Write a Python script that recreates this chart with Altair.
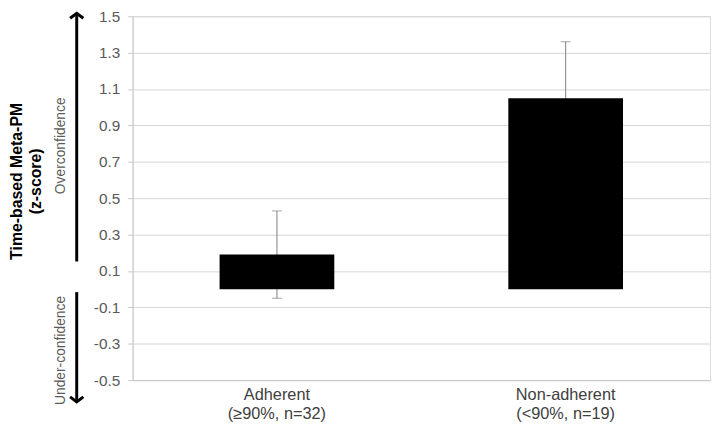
import altair as alt
import pandas as pd

groups = ["Adherent|(≥90%, n=32)", "Non-adherent|(<90%, n=19)"]
means = [0.19, 1.05]
errs = [0.24, 0.31]
y_ticks = [-0.5, -0.3, -0.1, 0.1, 0.3, 0.5, 0.7, 0.9, 1.1, 1.3, 1.5]

df = pd.DataFrame({
    "group": groups,
    "mean": means,
    "lo": [m - e for m, e in zip(means, errs)],
    "hi": [m + e for m, e in zip(means, errs)],
})

FONT = "Liberation Sans"
TOP = 6           # plot top offset inside svg
H = 368           # plot height

xenc = alt.X(
    "group:N", sort=groups, title=None,
    scale=alt.Scale(paddingInner=0, paddingOuter=0),
    axis=alt.Axis(
        labelExpr="split(datum.label, '|')", labelAngle=0, ticks=False,
        labelFontSize=16.5, labelFont=FONT, labelColor="#404040",
        labelPadding=7, labelLineHeight=19, domainColor="#c8c8c8",
        labelBaseline="top",
    ),
)
yscale = alt.Scale(domain=[-0.5, 1.5], nice=False, zero=False)
yaxis = alt.Axis(
    values=y_ticks, tickCount=30, title=None, labelFontSize=15.5, labelFont=FONT,
    labelExpr="replace(format(datum.value, '.1f'), '\u2212', '-')",
    labelColor="#595959", gridColor="#d6d6d6", domainColor="#c8c8c8",
    tickColor="#c8c8c8", tickSize=5, labelPadding=8,
    labelOverlap=False, labelFlush=False, labelBound=False,
)

base = alt.Chart(df)

err_rule = base.mark_rule(color="#7f7f7f", strokeWidth=1).encode(
    x=xenc, y=alt.Y("lo:Q", scale=yscale, axis=yaxis), y2="hi:Q"
)
cap_hi = base.mark_tick(color="#7f7f7f", size=10, thickness=1, orient="horizontal").encode(
    x=alt.X("group:N", sort=groups), y=alt.Y("hi:Q")
)
cap_lo = base.mark_tick(color="#7f7f7f", size=10, thickness=1, orient="horizontal").encode(
    x=alt.X("group:N", sort=groups), y=alt.Y("lo:Q")
)
bars = base.mark_bar(color="#000000", size=116).encode(
    x=alt.X("group:N", sort=groups), y=alt.Y("mean:Q"), y2=alt.datum(0)
)

one = pd.DataFrame({"k": [0]})
ann = alt.Chart(one)

def py(page_y):
    # page y -> chart y
    return page_y - 8 - TOP

title1 = ann.mark_text(angle=270, font=FONT, fontSize=16, fontWeight="bold", color="#000000",
                       align="center", baseline="middle").encode(
    x=alt.value(-117), y=alt.value(py(181)), text=alt.value("Time-based Meta-PM"))
title2 = ann.mark_text(angle=270, font=FONT, fontSize=16, fontWeight="bold", color="#000000",
                       align="center", baseline="middle").encode(
    x=alt.value(-98), y=alt.value(py(181)), text=alt.value("(z-score)"))
over = ann.mark_text(angle=270, font=FONT, fontSize=14, color="#595959",
                     align="center", baseline="middle").encode(
    x=alt.value(-72), y=alt.value(py(145)), text=alt.value("Overconfidence"))
under = ann.mark_text(angle=270, font=FONT, fontSize=14, color="#595959",
                      align="center", baseline="middle").encode(
    x=alt.value(-72), y=alt.value(py(352)), text=alt.value("Under-confidence"))

up_line = ann.mark_rule(color="#000000", strokeWidth=3).encode(
    x=alt.value(-56.5), y=alt.value(py(262)), y2=alt.value(py(12)))
down_line = ann.mark_rule(color="#000000", strokeWidth=3).encode(
    x=alt.value(-56.5), y=alt.value(py(293)), y2=alt.value(py(402)))
up_head = ann.mark_point(shape="M-1,0.75L0,0L1,0.75", size=180, filled=False,
                         color="#000000", strokeWidth=3, opacity=1).encode(
    x=alt.value(-56.5), y=alt.value(py(11)))
down_head = ann.mark_point(shape="M-1,-0.75L0,0L1,-0.75", size=180, filled=False,
                           color="#000000", strokeWidth=3, opacity=1).encode(
    x=alt.value(-56.5), y=alt.value(py(404)))

chart = alt.layer(
    err_rule, cap_lo, cap_hi, bars,
    title1, title2, over, under, up_line, down_line, up_head, down_head,
).properties(
    width=584, height=H,
    autosize=alt.AutoSizeParams(type="none"),
    padding={"left": 126, "top": TOP, "right": 2, "bottom": 40},
).configure_view(stroke=None).configure(background="white")

chart.save("out.html", embed_options={"renderer": "svg", "actions": False})
